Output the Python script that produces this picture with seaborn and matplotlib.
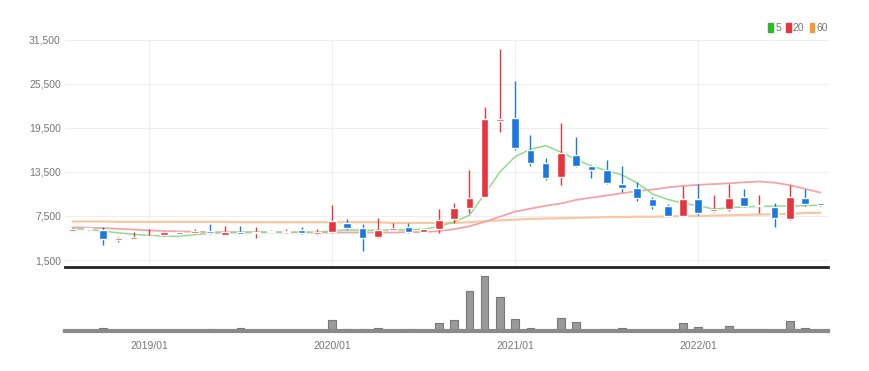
import numpy as np
import pandas as pd
import matplotlib
matplotlib.use("Agg")
import matplotlib.pyplot as plt
import seaborn as sns
from matplotlib.patches import Patch
from matplotlib.ticker import FuncFormatter

# monthly candles, 2018/08 .. 2022/09
months = pd.period_range("2018-08", "2022-09", freq="M").strftime("%Y/%m").tolist()

opens = [5500, 5850, 5600, 4200, 4400, 4650, 4850, 5250, 5150, 5450,
         4950, 5250, 5150, 5500, 5250, 5600, 5000, 5250, 6600, 5800,
         4600, 5600, 6050, 5300, 5750, 7050, 8550, 10150, 20400, 20800,
         16500, 14700, 12750, 15800, 14350, 13750, 11850, 11350, 9750, 8850,
         7500, 9750, 8150, 8500, 10050, 8800, 8750, 7050, 9900, 9250]
closes = [5750, 5700, 4400, 4450, 4600, 4800, 5350, 5100, 5400, 5150,
          5300, 5100, 5250, 5300, 5350, 5150, 5250, 6750, 5900, 4450,
          5600, 5900, 5300, 5700, 6950, 8550, 9900, 20700, 20700, 16750,
          14700, 12650, 16050, 14300, 13800, 11950, 11350, 9900, 8900, 7500,
          9750, 7950, 8400, 9900, 8900, 9050, 7200, 10050, 9150, 8950]
highs = [5800, 5900, 6000, 4700, 5250, 5700, 5400, 5300, 5700, 6400,
         6150, 6150, 6050, 5550, 5700, 5950, 5700, 9000, 7050, 6350,
         7250, 6500, 6600, 5750, 8400, 9300, 13750, 22400, 30300, 25950,
         18550, 15350, 20150, 18300, 14400, 15150, 14300, 12200, 10050, 9100,
         11600, 11850, 10350, 11850, 11150, 10350, 9300, 11750, 11150, 9300]
lows = [5450, 5650, 3550, 4000, 4350, 4600, 4800, 5050, 5100, 5100,
        4900, 5050, 4450, 5250, 5150, 5100, 4850, 5200, 5600, 2750,
        4450, 5550, 5150, 5250, 5150, 6500, 7850, 10100, 19000, 16500,
        14300, 12400, 11750, 14200, 12650, 11900, 10800, 9600, 8400, 7450,
        7450, 7650, 8050, 8200, 8750, 7850, 6050, 6950, 8850, 8900]

ma5 = [5750, 5700, 5450, 5200, 5000, 4850, 4750, 4750, 4950, 5150,
       5200, 5250, 5250, 5250, 5250, 5250, 5250, 5500, 5600, 5550,
       5550, 5600, 5600, 5700, 6050, 6700, 7600, 10500, 13500, 15600,
       16600, 17100, 16200, 15200, 14300, 13700, 13100, 12000, 10500, 9750,
       9250, 8900, 8450, 8600, 8750, 8800, 8850, 8850, 8900, 9000]
ma20 = [5950, 5900, 5850, 5750, 5650, 5550, 5450, 5400, 5350, 5300,
        5300, 5300, 5300, 5300, 5300, 5300, 5250, 5250, 5250, 5250,
        5250, 5250, 5300, 5300, 5450, 5700, 6100, 6700, 7400, 8100,
        8500, 8900, 9200, 9700, 10000, 10300, 10600, 10900, 11100, 11400,
        11600, 11750, 11850, 11950, 12100, 12200, 12050, 11700, 11200, 10700]
ma60 = [6750, 6750, 6750, 6700, 6700, 6700, 6700, 6700, 6700, 6700,
        6700, 6650, 6650, 6650, 6650, 6650, 6650, 6650, 6650, 6650,
        6650, 6550, 6550, 6550, 6550, 6550, 6650, 6800, 6900, 7000,
        7100, 7150, 7200, 7250, 7300, 7350, 7350, 7400, 7400, 7450,
        7500, 7500, 7550, 7600, 7650, 7700, 7750, 7800, 7900, 7950]

# volume, thousands of shares
volume = [100, 30, 270, 100, 30, 30, 30, 30, 30, 230,
          100, 300, 100, 100, 30, 100, 30, 1070, 230, 230,
          300, 100, 230, 100, 770, 1130, 4000, 5500, 3430, 1230,
          270, 100, 1300, 900, 100, 200, 270, 100, 30, 30,
          770, 430, 100, 470, 200, 200, 100, 970, 270, 30]

year_labels = ["2019/01", "2020/01", "2021/01", "2022/01"]
price_ticks = [1500, 7500, 13500, 19500, 25500, 31500]

df = pd.DataFrame({"month": months, "open": opens, "close": closes,
                   "high": highs, "low": lows, "ma5": ma5, "ma20": ma20,
                   "ma60": ma60, "volume": volume})
df["i"] = np.arange(len(df))
df["up"] = df["close"] >= df["open"]
year_pos = [months.index(m) for m in year_labels]

RED, BLUE = "#e8343c", "#1a78e0"
GREEN_L, PINK_L, ORANGE_L = "#8fdc8a", "#f4a3ab", "#f8c9a0"

sns.set_style("white")
plt.rcParams["font.family"] = ["Liberation Sans Narrow", "Liberation Sans", "DejaVu Sans"]

fig = plt.figure(figsize=(8.69, 3.71), dpi=100)
ax = fig.add_axes([0.0748, 0.2803, 0.878, 0.612])
axv = fig.add_axes([0.0748, 0.1078, 0.878, 0.167])

# moving averages
sns.lineplot(data=df, x="i", y="ma60", ax=ax, color=ORANGE_L, lw=1.6, zorder=2)
sns.lineplot(data=df, x="i", y="ma20", ax=ax, color=PINK_L, lw=1.3, zorder=2)
sns.lineplot(data=df, x="i", y="ma5", ax=ax, color=GREEN_L, lw=1.1, zorder=2)

# candles
colors = np.where(df["up"], RED, BLUE)
ax.vlines(df["i"], df["low"], df["high"], colors=colors, lw=1, zorder=3)
body_lo = np.minimum(df["open"], df["close"])
body_h = np.maximum(np.abs(df["close"] - df["open"]), 180)
ax.bar(df["i"], body_h, bottom=body_lo, width=0.5, color=colors, zorder=4)

ax.set_xlim(-0.5, len(df) - 0.5)
ax.set_ylim(545, 31500)
ax.set_yticks(price_ticks)
ax.yaxis.set_major_formatter(FuncFormatter(lambda v, p: f"{int(v):,}"))
ax.set_xticks(year_pos)
ax.tick_params(axis="x", length=0, labelbottom=False)
ax.tick_params(axis="y", length=0, labelsize=7.5, labelcolor="#777777", pad=3)
ax.grid(True, color="#efefef", lw=0.8)
ax.set_axisbelow(True)
ax.set_xlabel("")
ax.set_ylabel("")
for s in ["top", "left", "right"]:
    ax.spines[s].set_visible(False)
ax.spines["bottom"].set_color("#222222")
ax.spines["bottom"].set_linewidth(2)

handles = [Patch(color="#2eb82e"), Patch(color="#e8343c"), Patch(color="#f59a3c")]
ax.legend(handles, ["5", "20", "60"], ncol=3, loc="lower right",
          bbox_to_anchor=(1.0, 1.03), frameon=False, handlelength=0.45,
          handleheight=0.9, handletextpad=0.2, columnspacing=0.5,
          fontsize=7.5, labelcolor="#777777", borderpad=0, borderaxespad=0)

# volume
sns.barplot(data=df, x="i", y="volume", ax=axv, native_scale=True, width=0.5,
            color="#9a9a9a", edgecolor="#777777", linewidth=0.8, saturation=1)
axv.set_xlim(-0.5, len(df) - 0.5)
axv.set_ylim(0, 6200)
axv.set_yticks([])
axv.set_xticks(year_pos)
axv.set_xticklabels(year_labels)
axv.tick_params(axis="x", length=4, width=1, color="#333333",
                labelsize=7.5, labelcolor="#777777", pad=3)
axv.set_xlabel("")
axv.set_ylabel("")
for s in ["top", "left", "right"]:
    axv.spines[s].set_visible(False)
axv.spines["bottom"].set_color("#8a8a8a")
axv.spines["bottom"].set_linewidth(3)

fig.savefig("out.png", dpi=100)
